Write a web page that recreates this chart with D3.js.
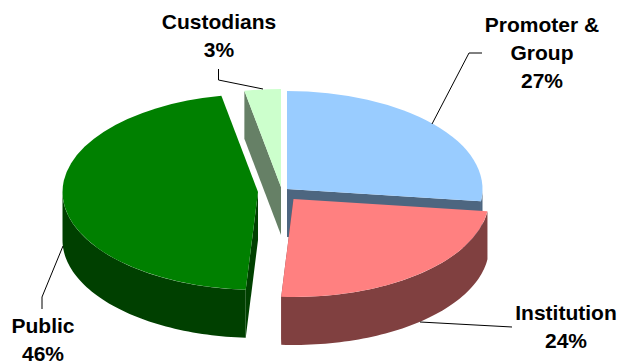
<!DOCTYPE html>
<html>
<head>
<meta charset="utf-8">
<script src="https://cdnjs.cloudflare.com/ajax/libs/d3/7.9.0/d3.min.js"></script>
<style>
html,body{margin:0;padding:0;background:#fff}
svg{display:block}
text{font-family:"Liberation Sans",Arial,sans-serif;font-weight:bold;font-size:21px;fill:#000;text-anchor:middle}
</style>
</head>
<body>
<svg id="chart" width="618" height="362"></svg>
<script>
// Shareholding pattern
const categories = ["Promoter & Group", "Institution", "Public", "Custodians"];
const shares = [27, 24, 46, 3];
const topColors = ["#99CCFF", "#FF8080", "#008000", "#CCFFCC"];
const wallColors = ["#4D6680", "#804040", "#004000", "#668066"];
const centersX = [287, 293.5, 258, 281];
const centersY = [189, 199, 192, 187];
const labelLines = [["Promoter &", "Group", "27%"], ["Institution", "24%"], ["Public", "46%"], ["Custodians", "3%"]];
const labelX = [542, 566, 43, 219];
const labelY = [32, 320, 333, 29];
const leaders = [
  [[432, 124], [469, 53], [482, 53]],
  [[420, 322], [512, 327]],
  [[63, 246], [42, 297], [42, 309]],
  [[218.5, 69], [218.5, 80], [263, 89]]
];

const radiusX = 195.5, radiusY = 98, depth = 48;
const svg = d3.select("#chart");

const slices = d3.pie().sort(null).value(d => d)(shares);
const arc = d3.arc().innerRadius(0).outerRadius(radiusX);
const line = d3.line();

// Angle 0 points up, growing clockwise; the disc is squashed vertically.
const rimX = (i, a) => centersX[i] + radiusX * Math.sin(a);
const rimY = (i, a) => centersY[i] - radiusY * Math.cos(a);

function drawSlice(i) {
  const s = slices[i];
  const g = svg.append("g");
  const cx = centersX[i], cy = centersY[i];

  // The cut face toward the viewer: the closing edge on the right half,
  // the opening edge on the left half.
  const faceAngle = s.startAngle >= Math.PI ? s.startAngle : s.endAngle;
  const ex = rimX(i, faceAngle), ey = rimY(i, faceAngle);
  g.append("path")
    .attr("d", line([[cx, cy], [ex, ey], [ex, ey + depth], [cx, cy + depth]]) + "Z")
    .attr("fill", wallColors[i]);

  // Outer rim: the part of the slice between 90 and 270 degrees faces front.
  const from = Math.max(s.startAngle, Math.PI / 2);
  const to = Math.min(s.endAngle, 3 * Math.PI / 2);
  if (to > from) {
    const angles = d3.range(0, 61).map(k => from + (to - from) * k / 60);
    const upper = angles.map(a => [rimX(i, a), rimY(i, a)]);
    const lower = angles.slice().reverse().map(a => [rimX(i, a), rimY(i, a) + depth]);
    g.append("path").attr("d", line(upper.concat(lower)) + "Z").attr("fill", wallColors[i]);
  }

  g.append("path")
    .attr("d", arc(s))
    .attr("transform", `translate(${cx},${cy}) scale(1,${radiusY / radiusX})`)
    .attr("fill", topColors[i]);
}

// Painted back to front
[3, 0, 2, 1].forEach(drawSlice);

// Leader lines
svg.append("g").selectAll("path").data(leaders).join("path")
  .attr("d", d => line(d)).attr("fill", "none").attr("stroke", "#000").attr("stroke-width", 1);

// Labels
categories.forEach((c, i) => {
  svg.append("text").attr("x", labelX[i]).attr("y", labelY[i])
    .selectAll("tspan").data(labelLines[i]).join("tspan")
    .attr("x", labelX[i]).attr("dy", (d, k) => k ? 28 : 0).text(d => d);
});
</script>
</body>
</html>
